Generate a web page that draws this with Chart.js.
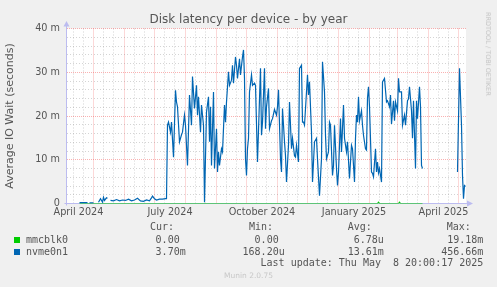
<!DOCTYPE html>
<html lang="en">
<head>
<meta charset="UTF-8">
<title>Disk latency per device - by year</title>
<style>
  html,body{margin:0;padding:0;background:#f0f0f0}
  #wrap{position:relative;width:497px;height:287px;overflow:hidden;
        font-family:"DejaVu Sans",sans-serif;color:#555}
  #chart{position:absolute;left:0;top:0}
  #title{position:absolute;left:0;top:11px;width:497px;text-align:center;
         font-size:12px;line-height:16px}
  .mono{position:absolute;font-family:"DejaVu Sans Mono",monospace;font-size:10px;
        line-height:12px;white-space:pre;color:#555}
  .sw{position:absolute;left:14px;width:6px;height:6px}
  #rrd{position:absolute;left:488px;top:54px;transform:translate(-50%,-50%) rotate(90deg);
       font-size:6.5px;color:#c4c4c4;white-space:nowrap}
  #munin{position:absolute;left:0;top:270px;width:497px;text-align:center;
         font-size:7.5px;line-height:12px;color:#c8c8c8}
</style>
</head>
<body>
<div id="wrap">
  <canvas id="chart" width="497" height="287"></canvas>
  <div id="title">Disk latency per device - by year</div>
  <div id="rrd">RRDTOOL / TOBI OETIKER</div>
  <div id="legend"></div>
  <div id="munin">Munin 2.0.75</div>
</div>

<script src="https://cdn.jsdelivr.net/npm/chart.js@4.4.0"></script>
<script>
/* ---------- data (days since 2024-04-03, values in ms) ---------- */
const nvmeDays = [14,18,22,23,24,28,30,33,35,37,38,39,41,42,44,45,48,51,54,57,60,63,66,69,72,75,78,81,84,86,87,89,91,94,97,100,101,
  102,103,105,106,108,110,111,112,114,116,117,119,120,122,124,126,127,129,131,132,133,135,136,138,139,141,143,144,145,146,148,149,
  151,152,153,154,156,157,159,160,161,163,164,166,167,168,170,171,172,174,175,177,178,179,180,181,182,183,184,186,187,189,190,192,
  194,195,196,197,199,200,201,203,204,206,207,209,211,212,213,215,216,217,219,220,221,223,224,226,227,229,230,231,233,234,236,237,
  238,239,241,242,243,244,246,247,249,251,252,254,256,257,259,260,261,263,264,265,267,268,269,271,272,273,275,276,278,279,281,282,
  284,286,287,289,290,291,292,293,294,296,297,298,300,301,302,303,304,306,307,308,310,311,312,313,314,316,317,319,321,322,324,325,
  326,328,329,330,332,333,334,336,337,339,340,342,343,344,346,347,348,350,351,352,354,355,356,357,358,392,394,396,397,398,399,400];
const nvmeMs = [0.2,0.2,0.2,null,0.15,0.15,null,0.3,1.1,0.3,1.4,0.7,1.3,1.2,null,0.7,0.6,0.9,0.6,0.8,0.7,1.0,0.6,0.8,1.2,0.6,0.5,0.8,0.6,1.3,1.7,1.1,0.8,1.0,1.0,1.1,1.1,
  17.9,18.6,16.3,18.6,10.6,25.9,23.2,22.1,14.1,15.7,16.3,20.2,17.9,8.7,24.8,17.9,29.0,21.7,27.0,20.2,24.4,16.3,22.5,17.9,0.3,20.9,24.4,14.1,22.1,8.7,25.5,8.0,
  17.1,7.2,11.8,8.7,12.5,11.8,22.5,18.6,23.2,30.1,27.0,28.2,31.6,27.5,33.5,31.6,28.6,33.1,29.4,33.5,35.1,28.6,10.2,6.4,12.5,14.9,25.5,29.4,27.0,27.5,27.0,9.5,
  23.9,30.9,15.6,18.6,30.9,17.1,22.1,26.3,17.1,18.9,19.4,21.5,20.2,22.1,26.0,10.2,7.2,21.7,14.1,10.9,4.9,13.3,23.2,12.5,14.9,10.9,10.6,13.3,9.5,30.9,31.6,18.6,
  18.6,17.9,25.5,29.4,24.8,27.8,16.3,4.9,14.1,14.9,10.2,1.8,10.2,32.4,25.5,15.6,10.2,11.8,18.6,17.9,6.4,8.7,17.9,8.0,4.1,7.2,19.4,11.8,22.5,14.9,11.8,14.1,
  5.7,13.3,12.5,4.9,14.9,20.2,18.6,24.4,18.9,21.2,17.9,15.6,12.5,12.2,24.1,26.7,22.1,7.2,6.9,6.1,12.5,7.2,9.5,7.0,8.0,4.9,27.8,28.6,23.2,23.5,22.1,24.8,
  18.2,23.5,18.9,23.2,21.2,28.6,25.5,25.5,17.9,20.2,17.9,23.5,23.9,26.7,21.2,14.9,23.5,8.0,23.5,19.4,26.7,22.1,8.7,8.0,null,7.2,30.9,17.9,6.4,1.1,4.1,3.9];

const mmcDays = [14,312,313,314,333,334,335,357,358];
const mmcMs   = [0,0,0.3,0,0,0.3,0,0,null];

const tickMonths = ['2024-04','2024-07','2024-10','2025-01','2025-04'];
const tickLabels = ['April 2024','July 2024','October 2024','January 2025','April 2025'];

const legendHead = ['Cur:','Min:','Avg:','Max:'];
const legendRows = [
  {name:'mmcblk0', color:'#00cc00', vals:['0.00','0.00','6.78u','19.18m']},
  {name:'nvme0n1', color:'#0066b3', vals:['3.70m','168.20u','13.61m','456.66m']}
];
const lastUpdate = 'Last update: Thu May  8 20:00:17 2025';

/* ---------- axis helpers ---------- */
const START = Date.UTC(2024, 3, 3);
const X_MIN = 1.5, X_MAX = 400.5;
const dayOf = (y, m, d) => (Date.UTC(y, m, d) - START) / 86400000;

const xKind = new Map();   // tick value -> 'major' | 'minor' | label text
for (let k = 0; k < 15; k++) {
  const y = 2024 + Math.floor((2 + k) / 12), m = (2 + k) % 12;
  xKind.set(dayOf(y, m, 1), 'major');
  xKind.set(dayOf(y, m, 11), 'minor');
  xKind.set(dayOf(y, m, 21), 'minor');
}
tickMonths.forEach((s, i) => {
  const [y, m] = s.split('-').map(Number);
  const mid = (dayOf(y, m - 1, 1) + dayOf(y, m, 1)) / 2;
  xKind.set(mid, tickLabels[i]);
});
const xTicks = [...xKind.keys()].filter(v => v >= X_MIN && v <= X_MAX).sort((a, b) => a - b);

const RED = 'rgba(240,70,70,0.42)', GREY = 'rgba(120,120,120,0.32)', AXIS = '#bcbcf0';
const FONT = {family:'"DejaVu Sans", sans-serif', size:9.7};

/* ---------- plugins ---------- */
const plotBg = {
  id:'plotBg',
  beforeDraw(chart){
    const {ctx, chartArea:a} = chart;
    ctx.save(); ctx.fillStyle = '#fff';
    ctx.fillRect(a.left, a.top, a.right - a.left, a.bottom - a.top);
    ctx.restore();
  }
};
const axes = {
  id:'axes',
  beforeDatasetsDraw(chart){
    const {ctx, chartArea:a} = chart;
    const x0 = a.left - 0.5, y0 = a.bottom;
    ctx.save();
    ctx.strokeStyle = AXIS; ctx.fillStyle = AXIS; ctx.lineWidth = 1;
    ctx.beginPath();
    ctx.moveTo(x0, y0 + 2); ctx.lineTo(x0, a.top - 3);
    ctx.moveTo(x0 - 2, y0); ctx.lineTo(a.right + 3, y0);
    ctx.stroke();
    ctx.beginPath();   // arrow up
    ctx.moveTo(x0 - 3, a.top - 2); ctx.lineTo(x0 + 3, a.top - 2); ctx.lineTo(x0, a.top - 7.5); ctx.fill();
    ctx.beginPath();   // arrow right
    ctx.moveTo(a.right + 1, y0 - 3); ctx.lineTo(a.right + 1, y0 + 3); ctx.lineTo(a.right + 7, y0); ctx.fill();
    ctx.restore();
  }
};

const isMajorY = c => c.tick && c.tick.value % 10 === 0;
const isMajorX = c => xKind.get(c.tick && c.tick.value) === 'major';

/* ---------- chart ---------- */
new Chart(document.getElementById('chart'), {
  type:'line',
  data:{datasets:[
    {label:'nvme0n1', data:nvmeDays.map((d, i) => ({x:d, y:nvmeMs[i]})),
     borderColor:'#0066b3', borderWidth:1.2, pointRadius:0, tension:0, spanGaps:false},
    {label:'mmcblk0', data:mmcDays.map((d, i) => ({x:d, y:mmcMs[i]})),
     borderColor:'#00cc00', borderWidth:1.2, pointRadius:0, tension:0, spanGaps:false}
  ]},
  options:{
    responsive:false, animation:false, events:[],
    layout:{padding:{left:4, right:31, top:28.5, bottom:63.5}},
    plugins:{legend:{display:false}, title:{display:false}, tooltip:{enabled:false}},
    scales:{
      x:{
        type:'linear', min:X_MIN, max:X_MAX,
        afterBuildTicks:s => { s.ticks = xTicks.map(v => ({value:v})); },
        afterFit:s => { s.height = 20; },
        grid:{drawTicks:false, lineWidth:1,
              color:c => { const k = xKind.get(c.tick && c.tick.value);
                           return k === 'major' ? RED : k === 'minor' ? GREY : 'transparent'; }},
        border:{display:false, dash:c => isMajorX(c) ? [1,1] : [1,2]},
        ticks:{autoSkip:false, maxRotation:0, padding:3, color:'#555', font:FONT,
               callback:v => { const k = xKind.get(v); return (k === 'major' || k === 'minor' || !k) ? '' : k; }}
      },
      y:{
        min:0, max:40,
        afterFit:s => { s.width = 63; },
        grid:{drawTicks:false, lineWidth:1, color:c => isMajorY(c) ? RED : GREY},
        border:{display:false, dash:c => isMajorY(c) ? [1,1] : [1,2]},
        ticks:{stepSize:2, autoSkip:false, padding:7, color:'#555', font:FONT,
               callback:v => v % 10 ? '' : (v === 0 ? '0' : v + ' m')},
        title:{display:true, text:'Average IO Wait (seconds)', padding:0, color:'#555',
               font:{family:'"DejaVu Sans", sans-serif', size:11}}
      }
    }
  },
  plugins:[plotBg, axes]
});

/* ---------- legend (munin style) ---------- */
const leg = document.getElementById('legend');
const headX = [150, 249, 347.7, 446.7];          // left edges of headers
const colRight = [185.7, 284.7, 383.8, 483.3];    // right edges of value fields
const rowY = [240, 252.3];
function put(text, css){
  const s = document.createElement('span');
  s.className = 'mono'; s.textContent = text; s.style.cssText = css;
  leg.appendChild(s);
}
legendHead.forEach((h, i) => put(h, `left:${headX[i]}px;top:${227.3 - 6}px`));
legendRows.forEach((r, j) => {
  const sw = document.createElement('div');
  sw.className = 'sw'; sw.style.background = r.color; sw.style.top = (rowY[j] - 3) + 'px';
  leg.appendChild(sw);
  put(r.name, `left:26px;top:${rowY[j] - 6}px`);
  r.vals.forEach((v, i) => {
    const txt = /[a-zµ]$/i.test(v) ? v : v + ' ';
    put(txt, `right:${497 - colRight[i]}px;top:${rowY[j] - 6}px`);
  });
});
put(lastUpdate, `right:${497 - 483.3}px;top:${263.3 - 6}px`);
</script>
</body>
</html>
